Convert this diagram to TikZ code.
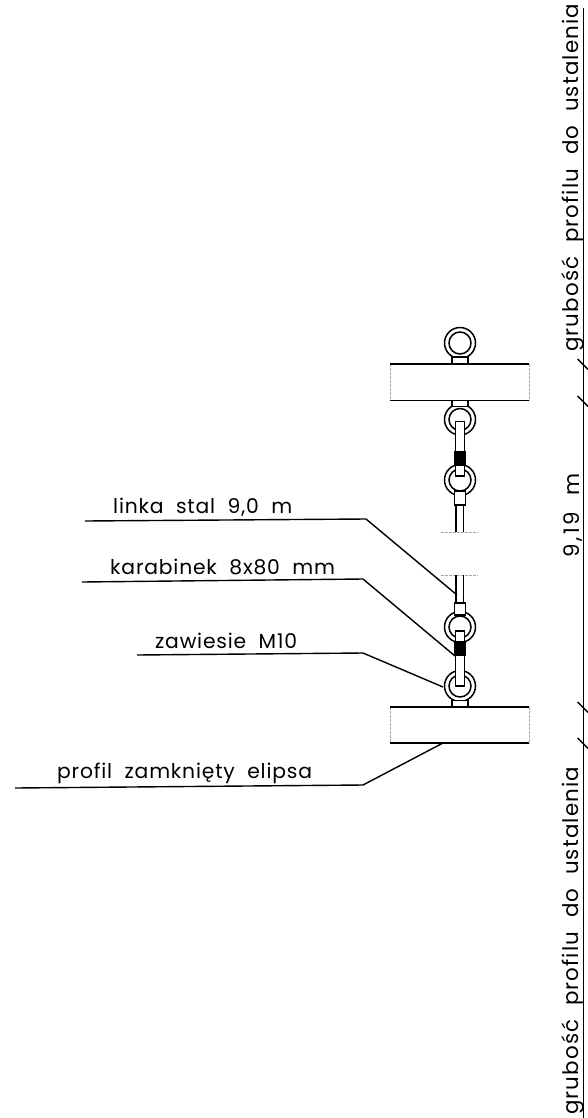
\documentclass[tikz,border=0pt]{standalone}
\usepackage{fontspec}
\setmainfont[WordSpace=2.0,LetterSpace=4]{Poppins}
\tikzset{
  dwg/.style={line width=1.5pt,black},
  heavy/.style={line width=1.6pt,black},
  breakl/.style={line width=0.6pt,gray!70,dashed,dash pattern=on 3pt off 1pt},
  lab/.style={anchor=base west,inner sep=0pt,font=\fontsize{20.3}{24}\selectfont},
  vlab/.style={anchor=base west,inner sep=0pt,rotate=90,font=\fontsize{21.4}{24}\selectfont\addfontfeature{LetterSpace=5.3}},
  dimlab/.style={anchor=base west,inner sep=0pt,rotate=90,font=\fontsize{21.4}{24}\selectfont\addfontfeature{LetterSpace=12}},
  leader/.style={line width=1.4pt,black},
  tick/.style={line width=1.4pt,black}
}
\newcommand{\ringat}[2]{%
  \draw[dwg] (#1,#2) circle[radius=15.5];
  \draw[dwg] (#1,#2) circle[radius=11];}
\newcommand{\profileat}[2]{%
  \draw[breakl] (390,#1) -- (390,#2);
  \draw[breakl] (529,#1) -- (529,#2);
  \draw[heavy] (390,#1) -- (529,#1);
  \draw[heavy] (390,#2) -- (529,#2);}
\begin{document}
\begin{tikzpicture}[x=1pt,y=-1pt]
\useasboundingbox (0,0) rectangle (588,1118);
% dimension line
\coordinate (dimtop) at (583.3,8);
\coordinate (dimbot) at (583.3,1118);
\draw[line width=1.4pt] (dimtop) -- (dimbot);
\foreach \y in {359,396,702,738}{\draw[tick] (577.7,\y) -- (588,\y+10.5);}
\node[vlab] (gt) at (578,352) {grubość profilu do ustalenia};
\node[dimlab] (dim) at (579,558) {9,19 m};
\node[vlab] (gb) at (578,1115) {grubość profilu do ustalenia};
% profiles
\profileat{364}{400.5}
\profileat{706.7}{743}
% top eye
\draw[dwg] (460,343) circle[radius=15.5];
\draw[dwg] (460,343) circle[radius=11];
\draw[dwg,fill=white] (452,357) rectangle (468,364);
% upper assembly
\ringat{460}{419.5}
\ringat{460}{480}
\draw[dwg,fill=white] (452,400.5) rectangle (468,406.5);
\draw[dwg,fill=white] (455.5,421.7) rectangle (464.7,476);
\fill[black] (453.7,451) rectangle (466,466);
\draw[dwg,fill=white] (454.7,491) rectangle (465.3,505);
\draw[dwg] (456,505) -- (456,532);
\draw[dwg] (463.3,505) -- (463.3,532);
\coordinate (bu1) at (441,532); \coordinate (bu2) at (478,532);
\draw[breakl] (bu1) -- (bu2);
% lower assembly
\coordinate (bl1) at (441,575); \coordinate (bl2) at (478,575);
\draw[breakl] (bl1) -- (bl2);
\draw[dwg] (456,575) -- (456,603);
\draw[dwg] (463.3,575) -- (463.3,603);
\ringat{460}{627}
\ringat{460}{686}
\draw[dwg,fill=white] (454.7,603) rectangle (465.3,615);
\draw[dwg,fill=white] (455.5,631) rectangle (464.7,686);
\fill[black] (453.7,641) rectangle (466,656);
\draw[dwg,fill=white] (452,700.5) rectangle (468,706.7);
% leaders
\coordinate (a1) at (85,521); \coordinate (a2) at (366,519); \coordinate (a3) at (457,595);
\coordinate (b1) at (82,582); \coordinate (b2) at (363,579); \coordinate (b3) at (455,656);
\coordinate (c1) at (137,655); \coordinate (c2) at (363,653); \coordinate (c3) at (443,687);
\coordinate (d1) at (15,788); \coordinate (d2) at (363,785); \coordinate (d3) at (443,743);
\draw[leader] (a1) -- (a2) -- (a3);
\draw[leader] (b1) -- (b2) -- (b3);
\draw[leader] (c1) -- (c2) -- (c3);
\draw[leader] (d1) -- (d2) -- (d3);
% labels
\node[lab] (l1) at (113,513) {linka stal 9,0 m};
\node[lab] (l2) at (110,574) {karabinek 8x80 mm};
\node[lab] (l3) at (155,648) {zawiesie M10};
\node[lab] (l4) at (57,778) {profil zamknięty elipsa};
\end{tikzpicture}
\end{document}
